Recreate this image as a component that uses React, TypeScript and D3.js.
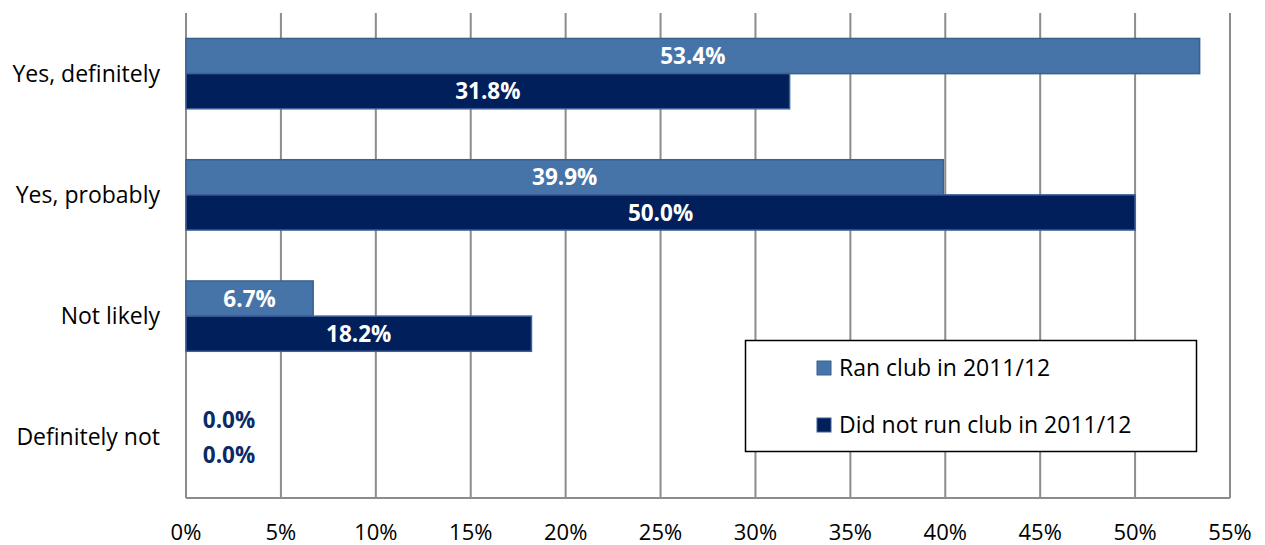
import * as d3 from "d3";

const categories = ["Yes, definitely", "Yes, probably", "Not likely", "Definitely not"];
const seriesNames = ["Ran club in 2011/12", "Did not run club in 2011/12"];
const ranClub = [53.4, 39.9, 6.7, 0.0];
const didNotRun = [31.8, 50.0, 18.2, 0.0];
const xTicks = [0, 5, 10, 15, 20, 25, 30, 35, 40, 45, 50, 55];

const fills = ["#4674a8", "#001f5b"];
const strokes = ["#39618f", "#3e5f98"];
const font = "'Open Sans', 'Liberation Sans', sans-serif";

export default function App() {
  const width = 1265;
  const height = 545;
  const margin = { top: 13, right: 35, bottom: 47, left: 186 };

  const x = d3.scaleLinear().domain([0, 55]).range([margin.left, width - margin.right]);
  const y = d3
    .scaleBand<string>()
    .domain(categories)
    .range([margin.top, height - margin.bottom])
    .paddingInner(0.42)
    .paddingOuter(0.21);
  const sub = d3.scaleBand<number>().domain([0, 1]).range([0, y.bandwidth()]);

  const series = [ranClub, didNotRun];

  return (
    <svg width={width} height={height} style={{ position: "absolute", left: 0, top: 0, fontFamily: font }}>
      <rect width={width} height={height} fill="#fff" />
      {xTicks.map(t => (
        <line key={t} x1={x(t)} x2={x(t)} y1={margin.top} y2={height - margin.bottom} stroke="#8c8c8c" strokeWidth={2} />
      ))}
      <line x1={margin.left} x2={width - margin.right} y1={height - margin.bottom} y2={height - margin.bottom} stroke="#8c8c8c" strokeWidth={2} />
      {xTicks.map(t => (
        <text key={t} x={x(t)} y={540} textAnchor="middle" fontSize={22} fill="#000">
          {t}%
        </text>
      ))}
      {categories.map(c => (
        <text key={c} x={160} y={(y(c) ?? 0) + y.bandwidth() / 2} dy="0.35em" textAnchor="end" fontSize={23} fill="#000">
          {c}
        </text>
      ))}
      {series.map((vals, si) =>
        vals.map((v, i) => {
          const yy = (y(categories[i]) ?? 0) + (sub(si) ?? 0);
          const bh = sub.bandwidth();
          const w = x(v) - x(0);
          return (
            <g key={`${si}-${i}`}>
              {v > 0 && (
                <rect x={x(0)} y={yy} width={w} height={bh} fill={fills[si]} stroke={strokes[si]} strokeWidth={1.5} />
              )}
              <text
                x={v > 0 ? x(0) + w / 2 : x(0) + 43}
                y={yy + bh / 2}
                dy="0.36em"
                textAnchor="middle"
                fontSize={22.5}
                fontWeight="bold"
                fill={v > 0 ? "#fff" : "#0b2a66"}
              >
                {v.toFixed(1)}%
              </text>
            </g>
          );
        })
      )}
      <g>
        <rect x={745.5} y={340.5} width={451} height={111} fill="#fff" stroke="#000" strokeWidth={1.5} />
        {seriesNames.map((n, i) => (
          <g key={n} transform={`translate(817,${368 + i * 57})`}>
            <rect x={0} y={-7} width={14} height={14} fill={fills[i]} stroke={strokes[i]} strokeWidth={1} />
            <text x={22} y={0} dy="0.35em" fontSize={23} fill="#000">
              {n}
            </text>
          </g>
        ))}
      </g>
    </svg>
  );
}
